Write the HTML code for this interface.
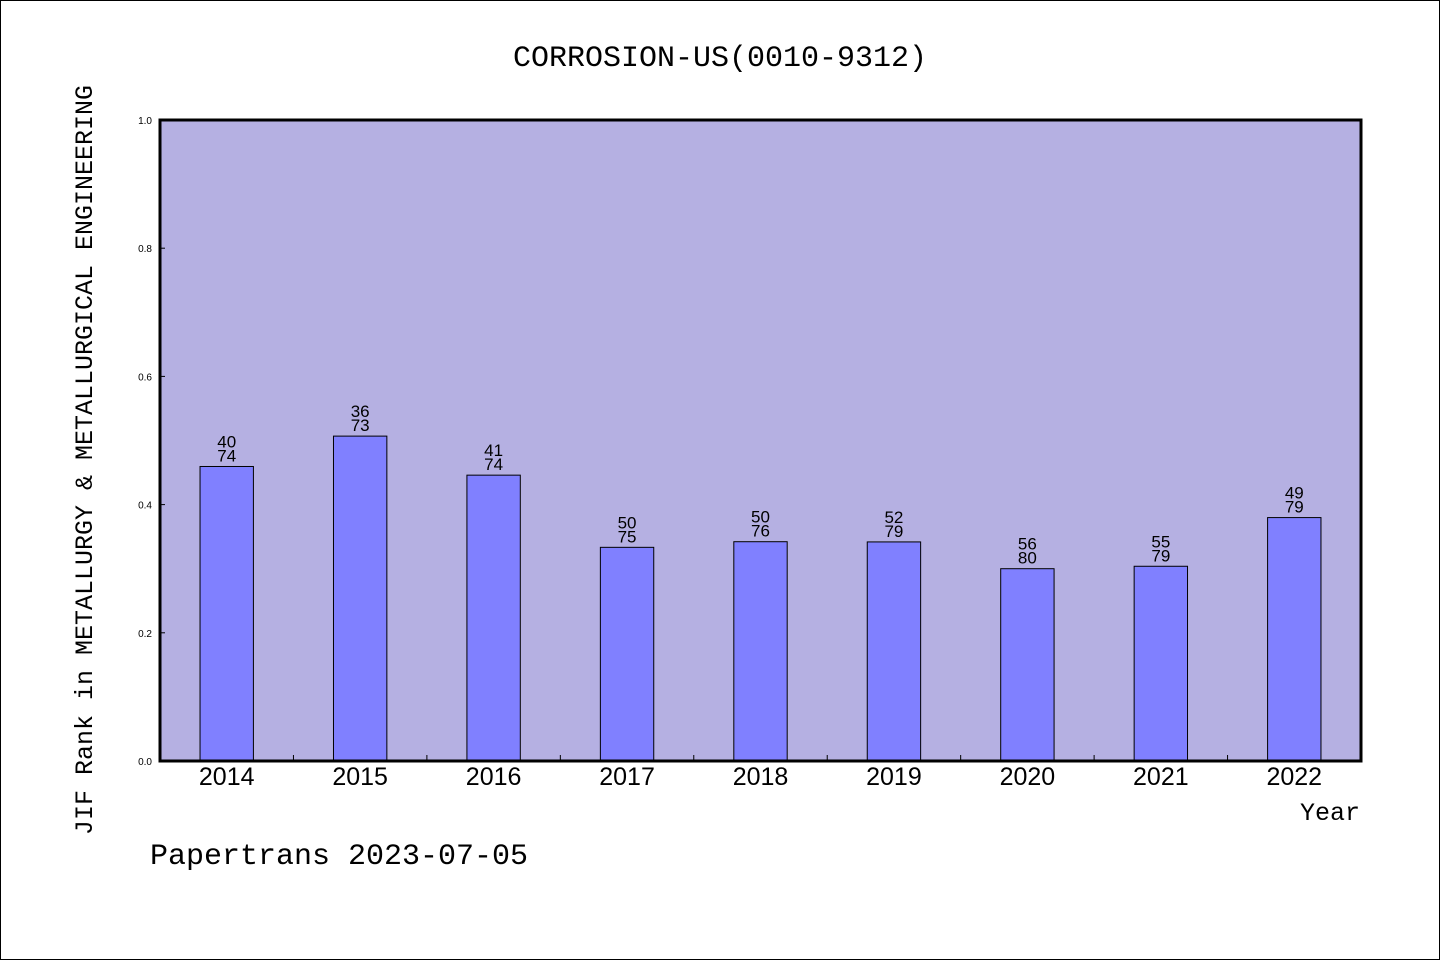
<!DOCTYPE html>
<html><head><meta charset="utf-8"><style>
html,body{margin:0;padding:0;background:#fff}
svg{display:block}
text{font-family:"Liberation Mono","WenQuanYi Zen Hei Mono",monospace;fill:#000}
.sans{font-family:"Liberation Sans","DejaVu Sans",sans-serif}
</style></head><body>
<svg id="chart" width="1440" height="960" xmlns="http://www.w3.org/2000/svg">
<rect x="0.5" y="0.5" width="1439" height="959" fill="#fff" stroke="#000"/>
<text x="720" y="66" font-size="30" text-anchor="middle">CORROSION-US(0010-9312)</text>
<rect x="160" y="120" width="1201" height="641" fill="#b5b0e2"/>
<g id="bars"></g>
<rect x="160" y="120" width="1201" height="641" fill="none" stroke="#000" stroke-width="3"/>
<text x="1360" y="820" font-size="25" text-anchor="end">Year</text>
<text transform="translate(92,460) rotate(-90)" font-size="25" text-anchor="middle">JIF Rank in METALLURGY &amp; METALLURGICAL ENGINEERING</text>
<text x="150" y="864" font-size="30">Papertrans 2023-07-05</text>
</svg>
<script>
const years=["2014","2015","2016","2017","2018","2019","2020","2021","2022"];
const ranks=[40,36,41,50,50,52,56,55,49];
const totals=[74,73,74,75,76,79,80,79,79];
const yTicks=[0,0.2,0.4,0.6,0.8,1.0];
const X0=160,W=1201,Y0=761,H=641;
const slot=W/years.length;
function xC(i){return X0+slot*(i+0.5);}
function yS(v){return Y0-v*H;}
const NS="http://www.w3.org/2000/svg";
const g=document.getElementById('bars');
function mk(t,a){const e=document.createElementNS(NS,t);for(const k in a)e.setAttribute(k,a[k]);return e;}
yTicks.forEach(v=>{
  const l=mk('line',{x1:X0,x2:X0+5,y1:yS(v),y2:yS(v),stroke:'#000','stroke-width':1});
  
  
  g.appendChild(l);
  const t=mk('text',{x:152,y:yS(v)+4,'font-size':10,'text-anchor':'end',class:'sans'});
  
  
  t.textContent=v.toFixed(1);g.appendChild(t);
});
years.forEach((y,i)=>{
  const v=1-ranks[i]/totals[i];
  const bw=slot*0.4;
  const r=mk('rect',{x:xC(i)-bw/2,y:yS(v),width:bw,height:Y0-yS(v),fill:'#8080ff',stroke:'#000','stroke-width':1});
  
  
  g.appendChild(r);
  const t1=mk('text',{x:xC(i),y:yS(v)-19,'font-size':17,'text-anchor':'middle',class:'sans'});
  
  
  t1.textContent=ranks[i];g.appendChild(t1);
  const t2=mk('text',{x:xC(i),y:yS(v)-5,'font-size':17,'text-anchor':'middle',class:'sans'});
  
  
  t2.textContent=totals[i];g.appendChild(t2);
  const xl=mk('text',{x:xC(i),y:785,'font-size':25,'text-anchor':'middle',class:'sans'});
  
  
  xl.textContent=y;g.appendChild(xl);
  if(i>0){
    const tk=mk('line',{x1:X0+slot*i,x2:X0+slot*i,y1:Y0,y2:Y0-6,stroke:'#000','stroke-width':1});
    
    
    g.appendChild(tk);
  }
});
</script>
</body></html>
